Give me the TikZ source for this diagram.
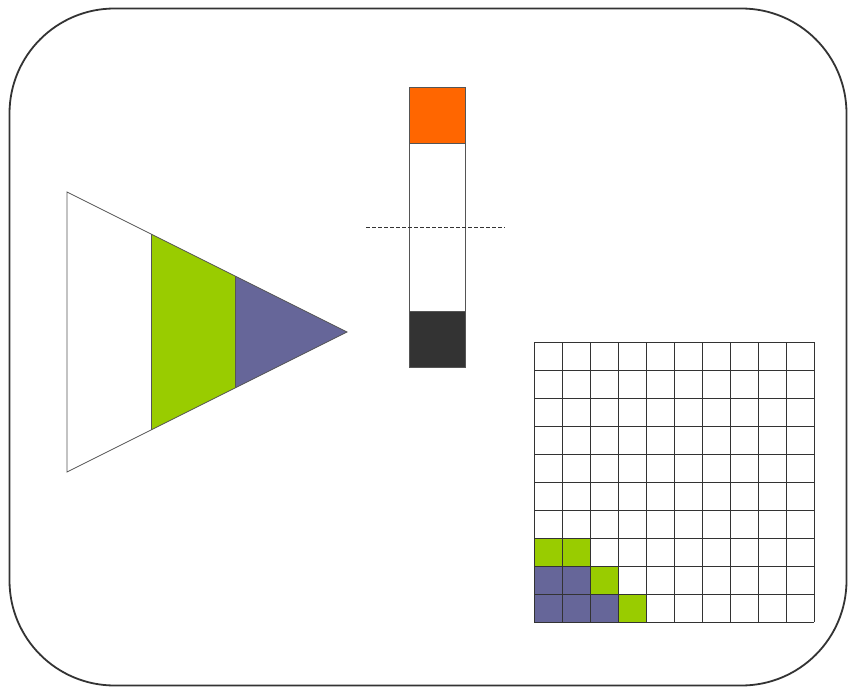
\documentclass[tikz,border=0pt]{standalone}
\definecolor{frameC}{HTML}{333333}
\definecolor{orangeC}{HTML}{FF6600}
\definecolor{darkC}{HTML}{333333}
\definecolor{greenC}{HTML}{99CC00}
\definecolor{purpleC}{HTML}{666699}
\definecolor{edgeC}{HTML}{555555}
\tikzset{
  outline/.style={draw=edgeC, line width=0.8pt},
  gridline/.style={draw=frameC, line width=1pt},
}
\begin{document}
\begin{tikzpicture}[x=1pt,y=-1pt]
\useasboundingbox (0,0) rectangle (848,687);
\fill[white] (0,0) rectangle (848,687);
% outer frame
\draw[frameC, line width=1.8pt, rounded corners=105pt] (9.5,8.5) rectangle (846.5,685.5);
% triangle
\fill[white] (67,192) -- (347,332) -- (67,472) -- cycle;
\fill[greenC] (151,234) -- (235,276) -- (235,388) -- (151,430) -- cycle;
\fill[purpleC] (235,276) -- (347,332) -- (235,388) -- cycle;
\draw[outline] (67,192) -- (347,332) -- (67,472) -- cycle;
\draw[outline] (151,234) -- (151,430);
\draw[outline] (235,276) -- (235,388);
% bar
\fill[orangeC] (409,87) rectangle (465,143);
\fill[darkC] (409,311) rectangle (465,367);
\draw[outline] (409,87) rectangle (465,367);
\draw[outline] (409,143) -- (465,143);
\draw[outline] (409,311) -- (465,311);
\draw[frameC, line width=0.7pt, dash pattern=on 4pt off 2pt] (366,227) -- (505,227);
% grid
\foreach \c/\r in {0/7,1/7,2/8,3/9}
  \fill[greenC] (534+28*\c,342+28*\r) rectangle ++(28,28);
\foreach \c/\r in {0/8,1/8,0/9,1/9,2/9}
  \fill[purpleC] (534+28*\c,342+28*\r) rectangle ++(28,28);
\foreach \i in {0,...,10} {
  \draw[gridline] (534+28*\i,342) -- (534+28*\i,622);
  \draw[gridline] (534,342+28*\i) -- (814,342+28*\i);
}
\end{tikzpicture}
\end{document}
